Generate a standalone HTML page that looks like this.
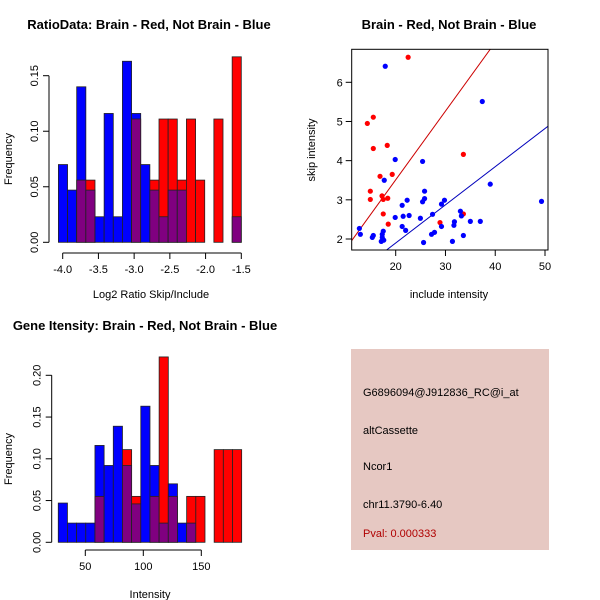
<!DOCTYPE html>
<html><head><meta charset="utf-8"><style>
body{margin:0;background:#fff;}
svg{display:block;font-family:"Liberation Sans",sans-serif;}
</style></head><body>
<svg id="c" width="600" height="600" viewBox="0 0 600 600">
<rect width="600" height="600" fill="#fff"/>
</svg>
<script>
// ---------- data ----------
// Ratio histogram (log2 skip/include)
const ratioRange = [-4.06, -1.5];
const ratioBlue = [0.070,0.047,0.140,0.047,0.023,0.116,0.023,0.163,0.116,0.070,0.047,0.023,0.047,0.047,0,0,0,0,0,0.023];
const ratioRed  = [0,0,0.056,0.056,0,0,0,0,0.111,0,0.056,0.111,0.111,0.056,0.111,0.056,0,0.111,0,0.167];
const ratioXTicks = [-4,-3.5,-3,-2.5,-2,-1.5];
const ratioXLabels = ["-4.0","-3.5","-3.0","-2.5","-2.0","-1.5"];
const ratioYTicks = [0,0.05,0.10,0.15];
const ratioYLabels = ["0.00","0.05","0.10","0.15"];
// Intensity histogram
const intRange = [26.7, 184.8];
const intBlue = [0.047,0.023,0.023,0.023,0.116,0.092,0.139,0.092,0.046,0.163,0.092,0.023,0.070,0.023,0.023,0,0,0,0,0];
const intRed  = [0,0,0,0,0.055,0,0,0.111,0.055,0,0.055,0.222,0.055,0,0.055,0.055,0,0.111,0.111,0.111];
const intXTicks = [50,100,150];
const intYTicks = [0,0.05,0.10,0.15,0.20];
const intYLabels = ["0.00","0.05","0.10","0.15","0.20"];
// Scatter
const redX = [22.5,14.3,15.5,15.5,18.3,33.6,16.85,19.3,14.9,14.9,17.25,18.4,17.5,17.5,18.5,28.9,33.6];
const redY = [6.64,4.95,5.11,4.31,4.39,4.16,3.6,3.65,3.22,3.01,3.1,3.04,3.01,2.64,2.38,2.42,2.64];
const blueX = [17.9,37.4,19.9,25.4,17.7,39.0,49.3,25.8,25.8,25.4,22.3,21.3,29.8,29.2,33.0,33.2,27.4,22.7,21.5,19.9,24.96,35.0,37.0,31.8,31.7,21.3,22.0,29.2,27.8,27.2,12.7,12.9,15.5,15.3,17.5,17.3,17.3,17.1,17.6,25.6,31.4,33.6];
const blueY = [6.41,5.51,4.03,3.98,3.5,3.40,2.96,3.22,3.03,2.95,2.99,2.86,2.99,2.89,2.71,2.59,2.63,2.60,2.58,2.55,2.53,2.45,2.45,2.44,2.35,2.32,2.22,2.32,2.17,2.12,2.27,2.12,2.09,2.04,2.20,2.12,2.04,1.94,1.97,1.91,1.94,2.09];
const lineSlope = [0.1755, 0.0974];
const lineIntercept = [0.0, -0.05];
const lineColor = ["#cc0000","#0000bb"];
const scXTicks = [20,30,40,50];
const scYTicks = [2,3,4,5,6];

// ---------- helpers ----------
const svg = document.getElementById('c');
const NS = 'http://www.w3.org/2000/svg';
function el(tag, attrs, parent){
  const e = document.createElementNS(NS, tag);
  for (const k in attrs) e.setAttribute(k, attrs[k]);
  (parent||svg).appendChild(e);
  return e;
}
function txt(s, x, y, size, opts, parent){
  const t = el('text', Object.assign({x:x, y:y, 'font-size':size, 'text-anchor':'middle', fill:'#000'}, opts||{}), parent);
  t.textContent = s;
  return t;
}
function lin(a,b,c,d){ return v => c + (v-a)*(d-c)/(b-a); }

function histogram(name, blue, red, range, xs, ys, xAxisY, yAxisX, xTicks, xLabels, yTicks, yLabels){
  const g = el('g', {});
  
  
  const n = blue.length, w = (range[1]-range[0])/n;
  for (let i=0;i<n;i++){
    const x0 = xs(range[0]+i*w), x1 = xs(range[0]+(i+1)*w);
    const b = blue[i], r = red[i];
    const mx = Math.max(b,r), mn = Math.min(b,r);
    if (mx>0){
      const r1 = el('rect', {x:x0, y:ys(mx), width:x1-x0, height:ys(0)-ys(mx), fill: b>=r?'#0000ff':'#ff0000', stroke:'#222', 'stroke-width':0.8}, g);
      
      
    }
    if (mn>0){
      const r2 = el('rect', {x:x0, y:ys(mn), width:x1-x0, height:ys(0)-ys(mn), fill:'#800080', stroke:'#222', 'stroke-width':0.8}, g);
      
      
    }
  }
  // x axis
  const xa = el('g', {}, g);
  
  
  el('line', {x1:xs(xTicks[0]), x2:xs(xTicks[xTicks.length-1]), y1:xAxisY, y2:xAxisY, stroke:'#000'}, xa);
  xTicks.forEach((t,i)=>{
    el('line', {x1:xs(t), x2:xs(t), y1:xAxisY, y2:xAxisY+6, stroke:'#000'}, xa);
    txt(xLabels[i], xs(t), xAxisY+20, 11, {}, xa);
  });
  // y axis
  const ya = el('g', {}, g);
  
  
  el('line', {x1:yAxisX, x2:yAxisX, y1:ys(yTicks[0]), y2:ys(yTicks[yTicks.length-1]), stroke:'#000'}, ya);
  yTicks.forEach((t,i)=>{
    el('line', {x1:yAxisX-6, x2:yAxisX, y1:ys(t), y2:ys(t), stroke:'#000'}, ya);
    txt(yLabels[i], yAxisX-11, ys(t), 11, {transform:`rotate(-90 ${yAxisX-11} ${ys(t)})`}, ya);
  });
}

// ---------- top-left ----------
{
  const xs = lin(-4, -1.5, 62.7, 241.3), ys = lin(0, 0.15, 242.3, 75.7);
  histogram('ratio-histogram', ratioBlue, ratioRed, ratioRange, xs, ys, 253, 49, ratioXTicks, ratioXLabels, ratioYTicks, ratioYLabels);
  const t = txt('RatioData: Brain - Red, Not Brain - Blue', 149, 29, 13, {'font-weight':'bold'});
   
  const xl = txt('Log2 Ratio Skip/Include', 151, 298, 11);
   
  const yl = txt('Frequency', 12, 159, 11, {transform:'rotate(-90 12 159)'});
   
}

// ---------- bottom-left ----------
{
  const xs = lin(50, 150, 85.3, 201.3), ys = lin(0, 0.20, 542.3, 375.3);
  histogram('intensity-histogram', intBlue, intRed, intRange, xs, ys, 550, 51.7, intXTicks, intXTicks.map(String), intYTicks, intYLabels);
  const t = txt('Gene Itensity: Brain - Red, Not Brain - Blue', 145, 330, 13, {'font-weight':'bold'});
   
  const xl = txt('Intensity', 150, 598, 11);
   
  const yl = txt('Frequency', 12, 459, 11, {transform:'rotate(-90 12 459)'});
   
}

// ---------- scatter ----------
{
  const L=351.7, R=548, T=49.3, B=250;
  const xs = lin(20, 50, 395.7, 545), ys = lin(2, 6, 239, 82.3);
  const g = el('g', {});
  
  
  const cp = el('clipPath', {id:'scclip'}, g);
  el('rect', {x:L, y:T, width:R-L, height:B-T}, cp);
  const lines = el('g', {'clip-path':'url(#scclip)'}, g);
  lineSlope.forEach((s,i)=>{
    const x0=10, x1=55;
    const l = el('line', {x1:xs(x0), y1:ys(lineIntercept[i]+s*x0), x2:xs(x1), y2:ys(lineIntercept[i]+s*x1), stroke:lineColor[i], 'stroke-width':1}, lines);
    
    
  });
  redX.forEach((x,i)=>{
    const c = el('circle', {cx:xs(x), cy:ys(redY[i]), r:2.6, fill:'#ff0000'}, g);
    
    
  });
  blueX.forEach((x,i)=>{
    const c = el('circle', {cx:xs(x), cy:ys(blueY[i]), r:2.6, fill:'#0000ff'}, g);
    
    
  });
  const box = el('rect', {x:L, y:T, width:R-L, height:B-T, fill:'none', stroke:'#000'}, g);
  
  
  const xa = el('g', {}, g);
  
  
  scXTicks.forEach(t=>{
    el('line', {x1:xs(t), x2:xs(t), y1:B, y2:B+6, stroke:'#000'}, xa);
    txt(String(t), xs(t), B+20, 11, {}, xa);
  });
  const ya = el('g', {}, g);
  
  
  scYTicks.forEach(t=>{
    el('line', {x1:L-6, x2:L, y1:ys(t), y2:ys(t), stroke:'#000'}, ya);
    txt(String(t), L-12, ys(t)+4, 11, {}, ya);
  });
  const tt = txt('Brain - Red, Not Brain - Blue', 449, 29, 13, {'font-weight':'bold'});
   
  const xl = txt('include intensity', 449, 298, 11);
   
  const yl = txt('skip intensity', 315, 150, 11, {transform:'rotate(-90 315 150)'});
   
}

// ---------- info panel ----------
{
  const g = el('g', {});
  
  
  el('rect', {x:351, y:349, width:198, height:201, fill:'#e6c8c2'}, g);
  const lines = [['G6896094@J912836_RC@i_at',396,'#000','probe-id'],['altCassette',434,'#000','event-type'],['Ncor1',470,'#000','gene-name'],['chr11.3790-6.40',508,'#000','location'],['Pval: 0.000333',537,'#b00000','p-value']];
  lines.forEach(l=>{
    const t = txt(l[0], 363, l[1], 11, {'text-anchor':'start', fill:l[2]}, g);
    
    
  });
}
</script>
</body></html>
